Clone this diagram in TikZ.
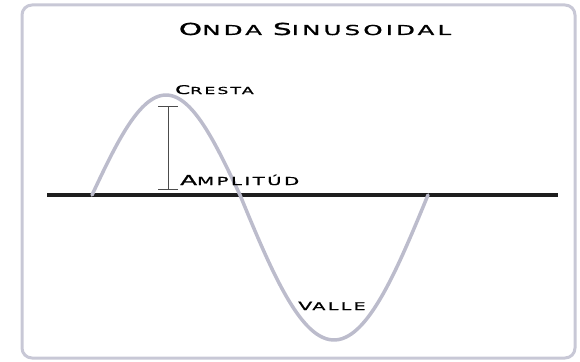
\documentclass[tikz,border=0pt]{standalone}
\usepackage{fontspec}
\usepackage{tikz}
\usetikzlibrary{arrows.meta}
\newfontfamily\widefont[FakeStretch=1.8,LetterSpace=22,FakeBold=1.2]{DejaVu Sans}
\newcommand{\initcap}[2]{{\fontsize{#1}{#1}\selectfont #2}}
\definecolor{wavegray}{RGB}{188,188,204}
\definecolor{framegray}{RGB}{200,200,214}
\definecolor{axisblack}{RGB}{30,30,30}

\begin{document}
\begin{tikzpicture}[x=1pt, y=-1pt,
  lbl/.style={inner sep=0pt, text=black, font=\widefont},
  wave/.style={draw=wavegray, line width=3.5pt, line cap=round},
  axis/.style={draw=axisblack, line width=4pt},
  ampbar/.style={draw=black!70, line width=0.8pt, {Bar[width=20pt]}-{Bar[width=20pt]}}
]
  \useasboundingbox (0,0) rectangle (580,361);
  \draw[framegray, line width=3pt, rounded corners=10pt] (22,5) rectangle (575,358);

  % Title
  \node[lbl, anchor=base] (title) at (315,35)
    {\fontsize{13.7}{14}\selectfont\initcap{16.5}{O}NDA \initcap{16.5}{S}INUSOIDAL};

  % Axis
  \coordinate (axisL) at (47,195);
  \coordinate (axisR) at (558,195);
  \draw[axis] (axisL) -- (axisR);

  % Wave: crest half and valley half
  \draw[wave] plot[domain=0:180, samples=60, smooth]
    ({92+0.8222*\x}, {195-100*sin(\x)})
    -- plot[domain=180:360, samples=60, smooth]
    ({240+1.0444*(\x-180)}, {195-145*sin(\x)});

  % Amplitude bar
  \coordinate (amptop) at (168,106);
  \coordinate (ampbot) at (168,190);
  \draw[ampbar] (amptop) -- (ampbot);

  % Labels
  \node[lbl, anchor=base west] (cresta) at (175,94)
    {\fontsize{9.6}{10}\selectfont\initcap{12}{C}RESTA};
  \node[lbl, anchor=base west] (amplitud) at (180,185)
    {\fontsize{11}{12}\selectfont\initcap{13.7}{A}MPLITÚD};
  \node[lbl, anchor=base west] (valle) at (298,310)
    {\fontsize{10.6}{12}\selectfont\initcap{11.5}{V}ALLE};
\end{tikzpicture}
\end{document}
